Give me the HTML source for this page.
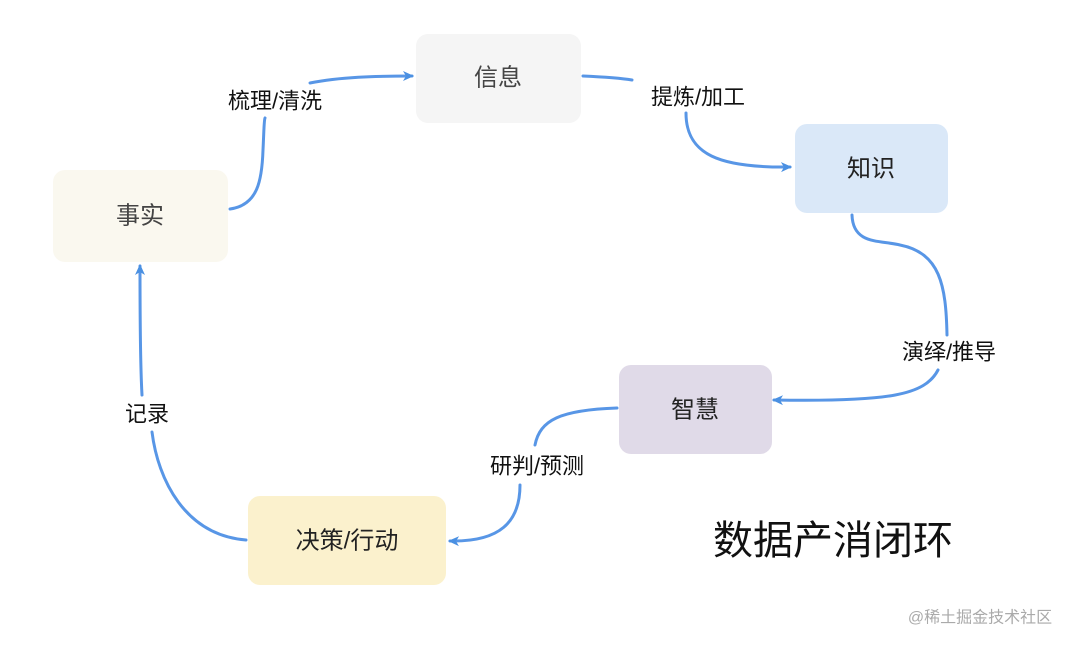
<!DOCTYPE html>
<html><head><meta charset="utf-8">
<style>
html,body{margin:0;padding:0;background:#fff;}
svg{display:block;}
text{font-family:"Liberation Sans","Noto Sans CJK SC",sans-serif;}
</style></head>
<body>
<svg width="1080" height="648" viewBox="0 0 1080 648" xmlns="http://www.w3.org/2000/svg">
<defs>
<marker id="a" markerWidth="12" markerHeight="12" refX="9" refY="6" orient="auto" markerUnits="userSpaceOnUse">
<path d="M0,1 L11,6 L0,11 L3,6 Z" fill="#4a90e2"/>
</marker>
</defs>
<rect width="1080" height="648" fill="#fff"/>
<g fill="none" stroke="#5896e6" stroke-width="3" stroke-linecap="round">
<path d="M230,209 C262,206 261,170 262,140 C263,122 264,112 264,100" stroke="none"/>
<path d="M230,209 C258,205 262,180 263,150 C264,130 264,120 265,118"/>
<path d="M310,83 C340,77 375,76 412,76" marker-end="url(#a)"/>
<path d="M583,76 C605,77 620,78 632,80"/>
<path d="M686,113 C686,155 720,168 790,167" marker-end="url(#a)"/>
<path d="M852,215 C853,245 880,240 900,245 C940,253 946,285 947,335"/>
<path d="M938,370 C925,395 890,402 774,400" marker-end="url(#a)"/>
<path d="M617,408 C560,410 540,420 535,445"/>
<path d="M520,485 C520,522 500,542 450,541" marker-end="url(#a)"/>
<path d="M246,540 C185,535 158,480 152,432"/>
<path d="M142,395 C140,360 140,310 140,266" marker-end="url(#a)"/>
</g>
<rect x="53" y="170" width="175" height="92" rx="12" fill="#faf8ef"/>
<rect x="416" y="34" width="165" height="89" rx="12" fill="#f5f5f5"/>
<rect x="795" y="124" width="153" height="89" rx="12" fill="#dae8f8"/>
<rect x="619" y="365" width="153" height="89" rx="12" fill="#e0dae8"/>
<rect x="248" y="496" width="198" height="89" rx="12" fill="#fbf1cd"/>
<g font-size="24" text-anchor="middle" dominant-baseline="central">
<text x="140" y="216" fill="#444">事实</text>
<text x="498" y="78" fill="#444">信息</text>
<text x="871" y="169" fill="#222">知识</text>
<text x="695" y="410" fill="#222">智慧</text>
<text x="347" y="541" fill="#222">决策/行动</text>
</g>
<g font-size="22" text-anchor="middle" dominant-baseline="central" fill="#111">
<text x="275" y="101">梳理/清洗</text>
<text x="698" y="97">提炼/加工</text>
<text x="949" y="352">演绎/推导</text>
<text x="537" y="466">研判/预测</text>
<text x="147" y="414">记录</text>
</g>
<text x="833" y="541" font-size="40" text-anchor="middle" dominant-baseline="central" fill="#111">数据产消闭环</text>
<text x="980" y="618" font-size="16" text-anchor="middle" dominant-baseline="central" fill="#aaa">@稀土掘金技术社区</text>
</svg>
</body></html>
